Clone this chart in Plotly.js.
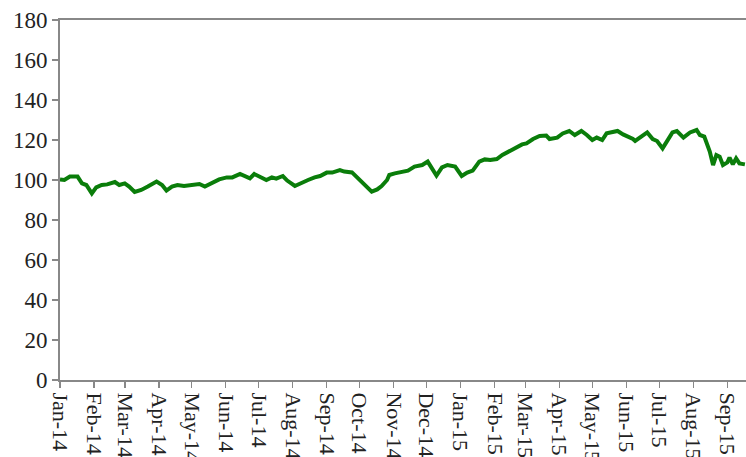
<!DOCTYPE html>
<html>
<head>
<meta charset="utf-8">
<script src="https://cdn.plot.ly/plotly-3.0.1.min.js"></script>
<style>html,body{margin:0;padding:0;background:#fff;}#chart{width:746px;height:457px;}</style>
</head>
<body>
<div id="chart"></div>
<script>
const dates = [
"2014-01-01","2014-01-05","2014-01-10","2014-01-17","2014-01-21","2014-01-25","2014-01-30",
"2014-02-03","2014-02-08","2014-02-13","2014-02-20","2014-02-24",
"2014-03-01","2014-03-05","2014-03-10","2014-03-16","2014-03-22","2014-03-30",
"2014-04-04","2014-04-08","2014-04-13","2014-04-18","2014-04-24",
"2014-05-01","2014-05-08","2014-05-13","2014-05-20","2014-05-26",
"2014-06-02","2014-06-07","2014-06-14","2014-06-18","2014-06-23","2014-06-27",
"2014-07-04","2014-07-08","2014-07-13","2014-07-17","2014-07-23","2014-07-27",
"2014-08-03","2014-08-09","2014-08-15","2014-08-21","2014-08-26",
"2014-09-01","2014-09-06","2014-09-13","2014-09-17","2014-09-24","2014-09-28",
"2014-10-03","2014-10-07","2014-10-12","2014-10-17","2014-10-21","2014-10-26","2014-10-28",
"2014-11-02","2014-11-08","2014-11-14","2014-11-20","2014-11-27",
"2014-12-02","2014-12-06","2014-12-10","2014-12-15","2014-12-20","2014-12-27",
"2015-01-02","2015-01-07","2015-01-12","2015-01-18","2015-01-23","2015-01-28",
"2015-02-03","2015-02-08","2015-02-15","2015-02-21","2015-02-26",
"2015-03-02","2015-03-08","2015-03-14","2015-03-20","2015-03-23","2015-03-30",
"2015-04-04","2015-04-10","2015-04-15","2015-04-21","2015-04-26",
"2015-05-01","2015-05-05","2015-05-10","2015-05-14","2015-05-20","2015-05-24","2015-05-29",
"2015-06-03","2015-06-07","2015-06-09","2015-06-14","2015-06-20","2015-06-25","2015-06-29",
"2015-07-04","2015-07-08","2015-07-13","2015-07-17","2015-07-23","2015-07-29",
"2015-08-04","2015-08-07","2015-08-11","2015-08-16","2015-08-19","2015-08-22","2015-08-25","2015-08-28",
"2015-09-01","2015-09-03","2015-09-06","2015-09-09","2015-09-12","2015-09-17"
];
const values = [
100.3,100,101.7,101.7,98.3,97.5,93.3,
96.3,97.5,97.8,99,97.5,
98.3,96.7,94,95,96.7,99.2,
97.5,94.7,96.7,97.5,97,
97.5,98,96.7,98.8,100.3,
101.3,101.3,103,102,100.8,103,
101.3,100,101.3,100.7,102,99.7,
97,98.7,100,101.3,102,
103.7,103.7,105,104.2,103.8,101.7,
99.2,97.5,94.2,95.3,97,100,102.5,
103.3,103.8,104.7,106.7,107.5,
109.2,105.8,102.2,106.3,107.5,106.7,
102,103.7,104.7,109.2,110.3,110,
110.5,112.5,114.5,116.7,117.8,
118.3,120.5,122,122.2,120.5,121.2,
123.3,124.5,122.5,124.5,122.5,
120,121.2,120,123.3,124.2,124.5,122.8,
121.7,120.5,119.5,121.2,123.8,120.5,119.5,
115.8,119.2,123.8,124.5,121.2,123.8,
125,122.5,121.7,114.2,107.5,112.5,111.7,107.5,
108.8,111.2,107.8,110.8,108.3,107.8
];
const yTicks = [0,20,40,60,80,100,120,140,160,180];

const trace = {
  x: dates, y: values, type: 'scatter', mode: 'lines',
  line: {color: '#0a7d0a', width: 4},
  hoverinfo: 'skip'
};
const layout = {
  width: 746, height: 457,
  margin: {l: 60, r: 0, t: 20, b: 77},
  paper_bgcolor: '#ffffff', plot_bgcolor: '#ffffff',
  showlegend: false,
  font: {family: '"Liberation Serif", "Times New Roman", serif', size: 22, color: '#222'},
  xaxis: {
    type: 'date',
    range: ['2014-01-01', '2015-09-18'],
    tickmode: 'linear', tick0: '2014-01-01', dtick: 'M1',
    tickformat: '%b-%y', tickangle: 90,
    ticks: 'outside', ticklen: 6, tickcolor: '#888', tickwidth: 1.5,
    showline: true, linecolor: '#888', linewidth: 2, mirror: true,
    showgrid: false, zeroline: false,
    tickfont: {size: 22, color: '#222'}
  },
  yaxis: {
    range: [0, 180],
    tickmode: 'array', tickvals: yTicks, ticktext: yTicks.map(String),
    ticks: 'outside', ticklen: 6, tickcolor: '#888', tickwidth: 1.5,
    showline: true, linecolor: '#888', linewidth: 2, mirror: false,
    showgrid: false, zeroline: false,
    tickfont: {size: 23, color: '#222'}
  }
};
Plotly.newPlot('chart', [trace], layout, {staticPlot: true, displayModeBar: false});
</script>
</body>
</html>
